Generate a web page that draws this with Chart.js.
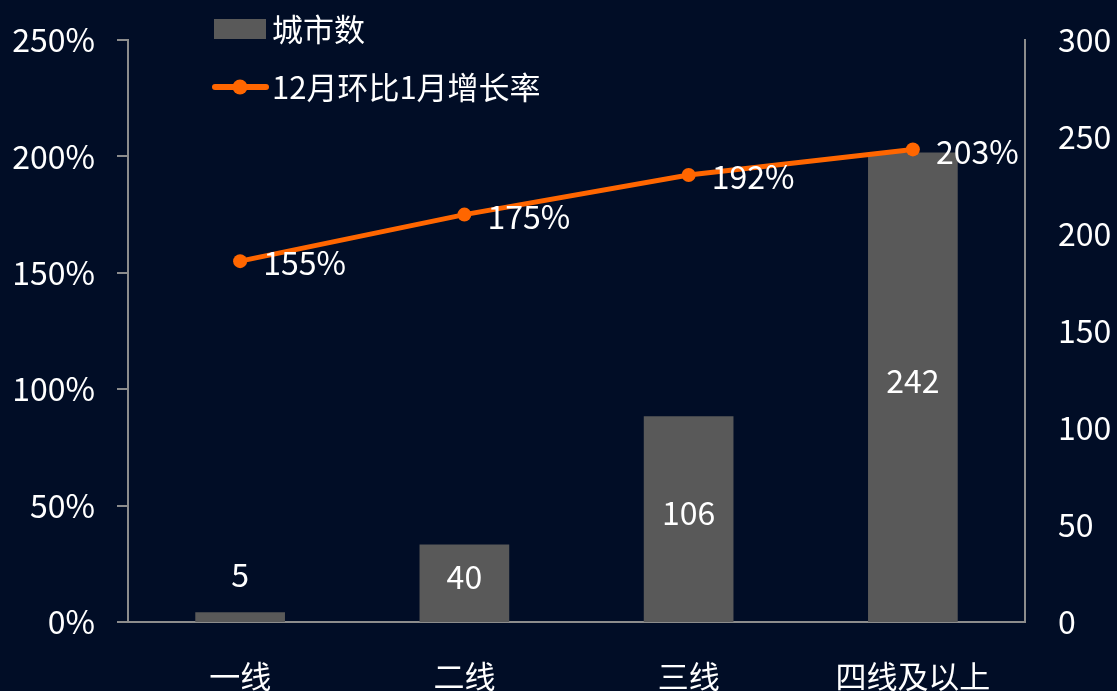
<!DOCTYPE html>
<html>
<head>
<meta charset="utf-8">
<script src="https://cdn.jsdelivr.net/npm/chart.js@4"></script>
<style>
  html, body { margin: 0; padding: 0; background: #010d26; }
  #wrap { width: 1117px; height: 691px; }
</style>
</head>
<body>
<div id="wrap"><canvas id="chart"></canvas></div>
<script>
// 数据
const categories = ['一线', '二线', '三线', '四线及以上'];
const cityCounts = [5, 40, 106, 242];
const growthRates = [155, 175, 192, 203]; // 12月环比1月增长率 (%)
const barLabel = '城市数';
const lineLabel = '12月环比1月增长率';

const FONT = '"Noto Sans CJK SC", "Noto Sans", sans-serif';
const AXIS = '#8c8c8c';
const BAR = '#595959';
const LINE = '#ff6600';

// 图例 + 数据标签
const labelsPlugin = {
    id: 'labels',
    afterDatasetsDraw(chart) {
        const ctx = chart.ctx;
        ctx.save();
        ctx.font = '32px ' + FONT;
        ctx.fillStyle = '#ffffff';
        ctx.textBaseline = 'middle';

        // 柱子标签
        ctx.textAlign = 'center';
        chart.getDatasetMeta(0).data.forEach((bar, i) => {
            const h = bar.base - bar.y;
            const y = h < 50 ? bar.y - 37 : (bar.y + bar.base) / 2 - 6;
            ctx.fillText(String(cityCounts[i]), bar.x, y);
        });

        // 折线标签
        ctx.textAlign = 'left';
        chart.getDatasetMeta(1).data.forEach((pt, i) => {
            ctx.fillText(growthRates[i] + '%', pt.x + 23, pt.y + 2);
        });

        // 图例
        ctx.fillStyle = BAR;
        ctx.fillRect(214, 19, 52, 20);
        ctx.strokeStyle = LINE;
        ctx.lineWidth = 6;
        ctx.lineCap = 'round';
        ctx.beginPath();
        ctx.moveTo(215, 87);
        ctx.lineTo(266, 87);
        ctx.stroke();
        ctx.fillStyle = LINE;
        ctx.beginPath();
        ctx.arc(240, 87, 7.5, 0, Math.PI * 2);
        ctx.fill();

        ctx.font = '31px ' + FONT;
        ctx.fillStyle = '#ffffff';
        ctx.fillText(barLabel, 272, 29);
        ctx.fillText(lineLabel, 272, 87);
        ctx.restore();
    }
};

new Chart(document.getElementById('chart'), {
    data: {
        labels: categories,
        datasets: [{
            type: 'bar',
            label: barLabel,
            data: cityCounts,
            yAxisID: 'y1',
            backgroundColor: BAR,
            barPercentage: 0.4,
            categoryPercentage: 1,
            order: 2
        }, {
            type: 'line',
            label: lineLabel,
            data: growthRates,
            yAxisID: 'y',
            borderColor: LINE,
            backgroundColor: LINE,
            borderWidth: 5,
            pointRadius: 7,
            pointBackgroundColor: LINE,
            pointBorderWidth: 0,
            tension: 0,
            order: 1
        }]
    },
    options: {
        responsive: true,
        maintainAspectRatio: false,
        animation: false,
        layout: { padding: { top: 40, left: 0, right: 0, bottom: 0 } },
        plugins: {
            legend: { display: false },
            tooltip: { enabled: false }
        },
        scales: {
            x: {
                grid: { display: false, drawTicks: false },
                border: { display: true, color: AXIS, width: 2 },
                ticks: { color: '#ffffff', font: { family: FONT, size: 31 }, padding: 36 },
                afterFit(scale) { scale.height = 69; }
            },
            y: {
                position: 'left',
                min: 0,
                max: 250,
                grid: { display: true, drawOnChartArea: false, drawTicks: true, tickLength: 11, color: AXIS, lineWidth: 2 },
                border: { display: true, color: AXIS, width: 2 },
                ticks: {
                    stepSize: 50,
                    color: '#ffffff',
                    font: { family: FONT, size: 32 },
                    padding: 22,
                    callback: v => v + '%'
                },
                afterFit(scale) {
                    scale.width = 128;
                    scale.paddingTop = 0;
                    scale.paddingBottom = 0;
                }
            },
            y1: {
                position: 'right',
                min: 0,
                max: 300,
                grid: { display: false, drawTicks: false },
                border: { display: true, color: AXIS, width: 2 },
                ticks: {
                    stepSize: 50,
                    color: '#ffffff',
                    font: { family: FONT, size: 32 },
                    padding: 33
                },
                afterFit(scale) {
                    scale.width = 92;
                    scale.paddingTop = 0;
                    scale.paddingBottom = 0;
                }
            }
        }
    },
    plugins: [labelsPlugin]
});
</script>
</body>
</html>
